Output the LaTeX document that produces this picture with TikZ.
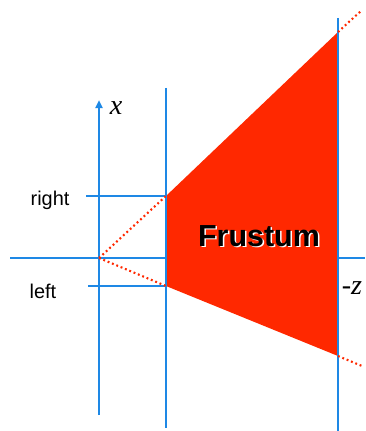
\documentclass[tikz,border=0pt]{standalone}
\usepackage{fontspec}
\setmainfont{Liberation Sans}
\newfontfamily\timesfont{Liberation Serif}
\usetikzlibrary{arrows.meta, calc}
\definecolor{axisblue}{RGB}{30,136,229}
\definecolor{frustred}{RGB}{255,40,0}
\tikzset{
  axisline/.style={line width=1.8pt, axisblue},
  rayline/.style={line width=1.8pt, frustred, dash pattern=on 1.6pt off 2.4pt},
  sidelabel/.style={font=\fontsize{17}{19}\selectfont},
  varlabel/.style={font=\timesfont\itshape\fontsize{24}{26}\selectfont},
  boldlabel/.style={font=\bfseries\fontsize{26}{28}\selectfont}
}
\begin{document}
\begin{tikzpicture}[x=0.03cm, y=-0.03cm]
\useasboundingbox (0,0) rectangle (365,431);
% corners and apex
\coordinate (eye) at (99,258);
\coordinate (nr) at (166,196);
\coordinate (nl) at (166,286);
\coordinate (fr) at (338,32);
\coordinate (fl) at (338,356);
\coordinate (rayr) at (362,10);
\coordinate (rayl) at (362,366);

\draw[axisline](10,258)--(365,258);
\fill[frustred] (nr)--(fr)--(fl)--(nl)--cycle;

\draw[axisline, -{Triangle[length=7pt, width=6pt]}](99,415)--(99,100);
\draw[axisline](166,88)--(166,428);
\draw[axisline](338,18)--(338,431);
\draw[axisline](86,196)--(nr);
\draw[axisline](88,286)--(nl);

\draw[rayline](eye)--(nr);
\draw[rayline](eye)--(nl);
\draw[rayline](fr)--(rayr);
\draw[rayline](fl)--(rayl);

\node[sidelabel] (right) at (50,200){right};
\node[sidelabel] (left) at (43,291){left};
\node[varlabel] (xlab) at (116,108){x};
\node[varlabel] (zlab) at (352,288){-z};

% white halo under the title
\node[white, boldlabel] (halo) at ($(259,236)+(1.5,1.5)$){Frustum};
\node[black, boldlabel] (frustum) at (259,236){Frustum};
\end{tikzpicture}
\end{document}
